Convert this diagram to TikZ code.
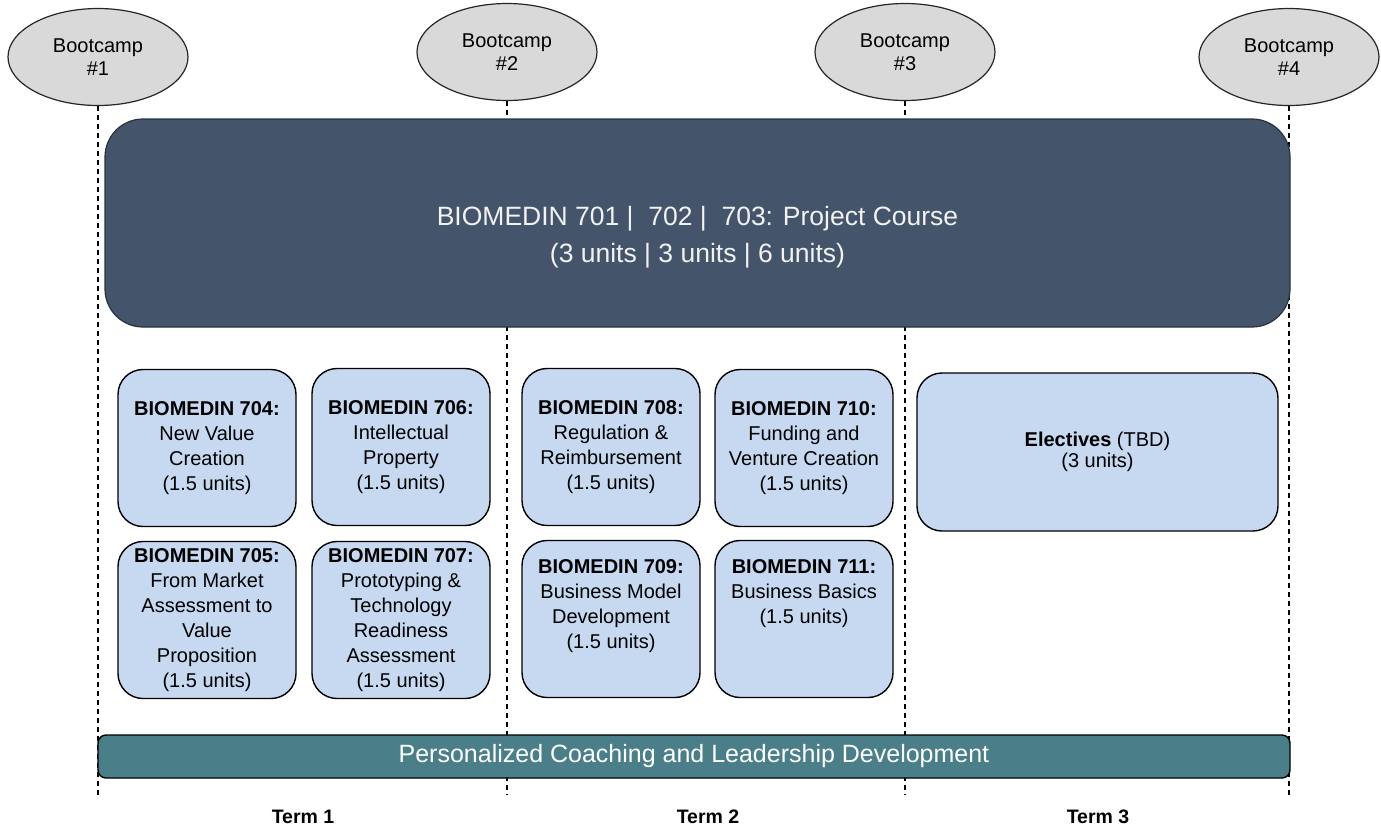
\documentclass[tikz,border=0pt]{standalone}
\usepackage{fontspec}
\setmainfont{Liberation Sans}
\usetikzlibrary{shapes.geometric}
\definecolor{campfill}{RGB}{217,217,217}
\definecolor{projfill}{RGB}{68,84,106}
\definecolor{projline}{RGB}{40,50,64}
\definecolor{coursefill}{RGB}{198,217,241}
\definecolor{coachfill}{RGB}{74,127,138}
\definecolor{lighttext}{RGB}{242,242,242}
\begin{document}
\begin{tikzpicture}[x=1pt,y=-1pt,
  camp/.style={ellipse, draw=black!85, line width=1.2pt, fill=campfill,
    minimum width=180pt, minimum height=97pt, inner sep=0pt, align=center,
    font=\fontsize{20}{23}\selectfont},
  guide/.style={draw=black, line width=1.6pt, dash pattern=on 5pt off 4pt},
  project/.style={draw=projline, line width=1.2pt, fill=projfill,
    rounded corners=38pt, minimum width=1185pt, minimum height=208pt, inner sep=0pt},
  projtext/.style={text=lighttext, align=center, font=\fontsize{26.5}{37}\selectfont},
  course/.style={draw=black, line width=1.4pt, fill=coursefill, rounded corners=25pt,
    minimum width=178pt, minimum height=157pt, inner sep=0pt},
  coursetext/.style={align=center, font=\fontsize{20}{25}\selectfont},
  coach/.style={draw=black, line width=1.4pt, fill=coachfill, rounded corners=8pt,
    minimum width=1192pt, minimum height=43pt, inner sep=0pt, text=white,
    font=\fontsize{25}{28}\selectfont},
  term/.style={font=\bfseries\fontsize{19.5}{22}\selectfont}
]
\path[use as bounding box] (0,0) rectangle (1381,831);

% bootcamps
\node[camp] (bc1) at (98,57) {Bootcamp\\\#1};
\node[camp] (bc2) at (507,52) {Bootcamp\\\#2};
\node[camp] (bc3) at (905,52) {Bootcamp\\\#3};
\node[camp] (bc4) at (1289,57) {Bootcamp\\\#4};

% term boundaries
\coordinate (end1) at (98,795);
\coordinate (end2) at (507,795);
\coordinate (end3) at (905,795);
\coordinate (end4) at (1289,795);
\draw[guide] (bc1.south) -- (end1);
\draw[guide] (bc2.south) -- (end2);
\draw[guide] (bc3.south) -- (end3);
\draw[guide] (bc4.south) -- (end4);

% project course spanning all terms
\node[project] (proj) at (697.5,223) {};
\node[projtext] (projlbl) at (697.5,237) {BIOMEDIN 701 |\ \ 702 |\ \ 703: Project Course\\(3 units | 3 units | 6 units)};

% term 1 courses
\node[course] (c704) at (207,448) {};
\node[coursetext] at (c704.center) {\textbf{BIOMEDIN 704:}\\New Value\\Creation\\(1.5 units)};
\node[course] (c706) at (401,447) {};
\node[coursetext] at (c706.center) {\textbf{BIOMEDIN 706:}\\Intellectual\\Property\\(1.5 units)};
\node[course] (c705) at (207,620) {};
\node[coursetext] at (c705.center) {\textbf{BIOMEDIN 705:}\\From Market\\Assessment to\\Value\\Proposition\\(1.5 units)};
\node[course] (c707) at (401,620) {};
\node[coursetext] at (c707.center) {\textbf{BIOMEDIN 707:}\\Prototyping \&\\Technology\\Readiness\\Assessment\\(1.5 units)};

% term 2 courses
\node[course] (c708) at (611,447) {};
\node[coursetext] at (c708.center) {\textbf{BIOMEDIN 708:}\\Regulation \&\\Reimbursement\\(1.5 units)};
\node[course] (c710) at (804,448) {};
\node[coursetext] at (c710.center) {\textbf{BIOMEDIN 710:}\\Funding and\\Venture Creation\\(1.5 units)};
\node[course] (c709) at (611,619) {};
\node[coursetext, anchor=north] at ([yshift=-16pt]c709.north) {\textbf{BIOMEDIN 709:}\\Business Model\\Development\\(1.5 units)};
\node[course] (c711) at (804,619) {};
\node[coursetext, anchor=north] at ([yshift=-16pt]c711.north) {\textbf{BIOMEDIN 711:}\\Business Basics\\(1.5 units)};

% term 3
\node[course, minimum width=361pt, minimum height=158pt] (elect) at (1097.5,452) {};
\node[coursetext, font=\fontsize{20}{21}\selectfont] at (elect.center) {\textbf{Electives} (TBD)\\(3 units)};

% coaching bar
\node[coach] (coach) at (694,756.5) {Personalized Coaching and Leadership Development};

% term labels
\node[term] (term1) at (303,817) {Term 1};
\node[term] (term2) at (708,817) {Term 2};
\node[term] (term3) at (1098,817) {Term 3};
\end{tikzpicture}
\end{document}
